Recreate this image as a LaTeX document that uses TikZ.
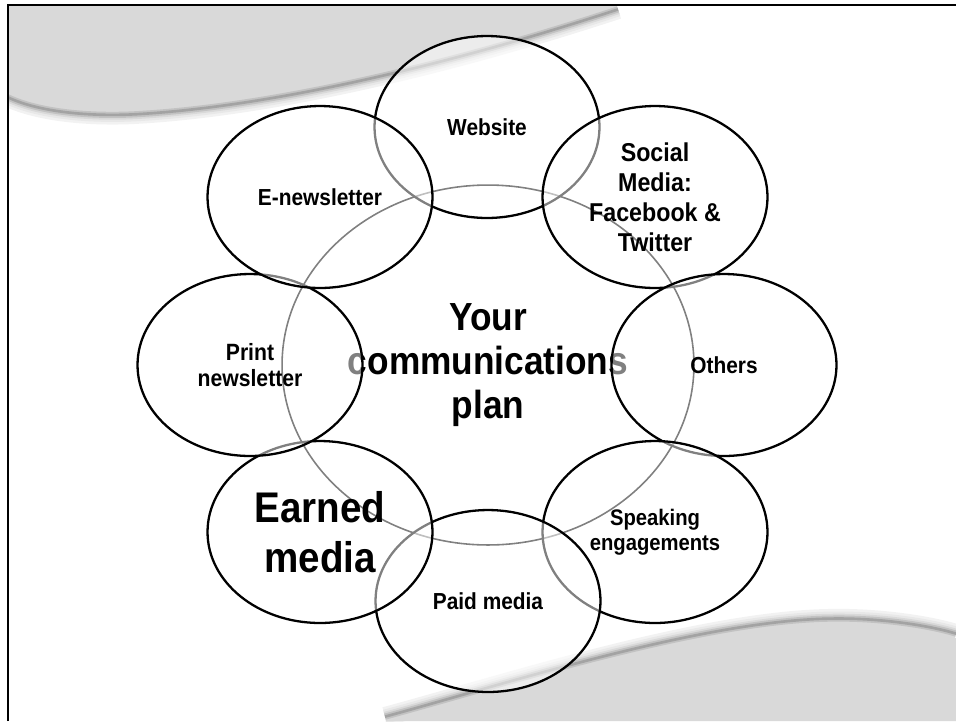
\documentclass[tikz,border=0pt]{standalone}
\usepackage{fontspec}
\setmainfont{Liberation Sans}[FakeStretch=0.9]
\usetikzlibrary{shapes.geometric}

\newcommand{\labelsize}[2]{\bfseries\fontsize{#1}{#2}\selectfont}
\newcommand{\topswoosh}{(8,93) .. controls (40,108) and (90,112) .. (133,110)
  .. controls (250,104) and (420,70) .. (618,5)}
\newcommand{\bottomswoosh}{(385,721) .. controls (500,690) and (700,625) .. (830,623)
  .. controls (880,622) and (930,630) .. (956,638)}

\begin{document}
\begin{tikzpicture}[
    x=0.02cm, y=-0.02cm,
    swoosh/.style={fill=black!15},
    hub/.style={
        ellipse, draw, line width=0.9pt,
        inner sep=0pt, align=center,
        minimum width=8.24cm, minimum height=7.2cm,
        font=\labelsize{22.3}{25}
    },
    ring/.style={
        ellipse, draw, line width=1.3pt,
        fill=white, fill opacity=0.5, text opacity=1,
        inner sep=0pt, align=center,
        minimum width=4.5cm, minimum height=3.64cm,
        font=\labelsize{13.2}{14.5}
    }
]
\useasboundingbox (0,0) rectangle (956,721);

% grey page corners with a soft edge
\begin{scope}
  \clip (8,5) rectangle (956,721);
  \foreach \w/\c in {11/5,8/9,5.5/15,3.5/24,1.5/36}
    \draw[line width=\w pt, black!\c, yshift=-2.5pt] \topswoosh;
  \fill[swoosh] (8,5) -- \topswoosh -- cycle;
  \foreach \w/\c in {11/5,8/9,5.5/15,3.5/24,1.5/36}
    \draw[line width=\w pt, black!\c, yshift=2.5pt] \bottomswoosh;
  \fill[swoosh] \bottomswoosh -- (956,721) -- cycle;
\end{scope}

\node[hub] (hub) at (488,365) {Your\\communications\\plan};

\node[ring] (website) at (487,127) {Website};
\node[ring, font=\labelsize{14.7}{17}] (social) at (655,197)
  {Social\\Media:\\Facebook \&\\Twitter};
\node[ring] (others) at (724,365) {Others};
\node[ring, font=\labelsize{12.8}{14.2}] (speaking) at (655,532)
  {Speaking\\engagements};
\node[ring] (paid) at (488,601) {Paid media};
\node[ring, font=\labelsize{24.4}{28.3}] (earned) at (320,532) {Earned\\media};
\node[ring, font=\labelsize{13.4}{14.7}] (print) at (250,365) {Print\\newsletter};
\node[ring] (enews) at (320,197) {E-newsletter};

\draw[line width=1.1pt] (8,721) -- (8,5) -- (956,5);
\end{tikzpicture}
\end{document}
